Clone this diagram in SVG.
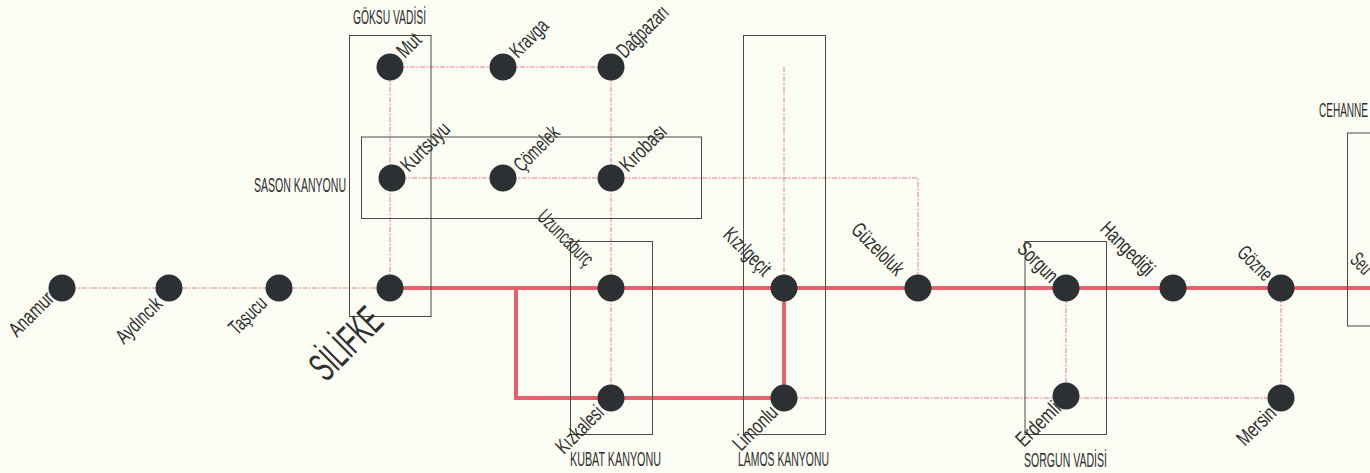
<svg xmlns="http://www.w3.org/2000/svg" width="1370" height="473" viewBox="0 0 1370 473">
<style>
.bg{fill:#fbfcf4}
.box{fill:none;stroke:#4a4a46;stroke-width:1}
.thin{fill:none;stroke:#e67d93;stroke-width:1;stroke-dasharray:5 1.500 2 1.500}
.thick{fill:none;stroke:#e8606c;stroke-width:4}
.dot{fill:#2d3033}
text{font-family:"Liberation Sans",Arial,sans-serif;font-size:21px;fill:#2f2f2f}
.cap{font-size:20.500px}
.big{font-size:41px}
</style>
<rect class="bg" width="1370" height="473"/>
<g id="connectors">
<path class="thin" d="M62 288H390M390 67H611M390 67V288M611 67V398M392 178H918V288M784 67V288M784 398H1281M1066 288V396M1281 288V398"/>
<path class="thick" d="M390 288H1370M516 288V398H784V288"/>
</g>
<g id="regions">
<g id="goksu"><rect class="box" x="349.500" y="35.500" width="81.500" height="281"/><text class="cap" x="353" y="24" textLength="73" lengthAdjust="spacingAndGlyphs">GÖKSU VADİSİ</text></g>
<g id="sason"><rect class="box" x="361.500" y="137" width="340" height="81.500"/><text class="cap" x="254" y="192" textLength="92" lengthAdjust="spacingAndGlyphs">SASON KANYONU</text></g>
<g id="kubat"><rect class="box" x="570.500" y="241.500" width="82" height="193"/><text class="cap" x="570" y="466" textLength="91" lengthAdjust="spacingAndGlyphs">KUBAT KANYONU</text></g>
<g id="lamos"><rect class="box" x="743.500" y="35.500" width="82" height="399"/><text class="cap" x="738" y="466" textLength="91" lengthAdjust="spacingAndGlyphs">LAMOS KANYONU</text></g>
<g id="sorgun-vadisi"><rect class="box" x="1025" y="241.500" width="81.500" height="193"/><text class="cap" x="1024" y="467" textLength="83" lengthAdjust="spacingAndGlyphs">SORGUN VADİSİ</text></g>
<g id="cehanne"><rect class="box" x="1347.500" y="133" width="40" height="193"/><text class="cap" x="1319" y="117" textLength="49" lengthAdjust="spacingAndGlyphs">CEHANNE</text></g>
</g>
<g id="n-anamur"><circle class="dot" cx="62" cy="288" r="13.500"/><text transform="translate(17 338) rotate(-45)" textLength="54" lengthAdjust="spacingAndGlyphs">Anamur</text></g>
<g id="n-aydincik"><circle class="dot" cx="169" cy="288" r="13.500"/><text transform="translate(124 345) rotate(-45)" textLength="56" lengthAdjust="spacingAndGlyphs">Aydıncık</text></g>
<g id="n-tasucu"><circle class="dot" cx="279" cy="288" r="13.500"/><text transform="translate(237 336) rotate(-45)" textLength="44" lengthAdjust="spacingAndGlyphs">Taşucu</text></g>
<g id="n-silifke"><circle class="dot" cx="390" cy="288" r="13.500"/><text class="big" transform="translate(326 383) rotate(-45)" textLength="84" lengthAdjust="spacingAndGlyphs">SİLİFKE</text></g>
<g id="n-mut"><circle class="dot" cx="390" cy="67" r="13.500"/><text transform="translate(405 59) rotate(-45)" textLength="25" lengthAdjust="spacingAndGlyphs">Mut</text></g>
<g id="n-kravga"><circle class="dot" cx="503" cy="67" r="13.500"/><text transform="translate(518 59) rotate(-45)" textLength="45" lengthAdjust="spacingAndGlyphs">Kravga</text></g>
<g id="n-dagpazari"><circle class="dot" cx="611" cy="67" r="13.500"/><text transform="translate(625 59) rotate(-45)" textLength="64" lengthAdjust="spacingAndGlyphs">Dağpazarı</text></g>
<g id="n-kurtsuyu"><circle class="dot" cx="392" cy="178" r="13.500"/><text transform="translate(409 173) rotate(-45)" textLength="60" lengthAdjust="spacingAndGlyphs">Kurtsuyu</text></g>
<g id="n-comelek"><circle class="dot" cx="503" cy="178" r="13.500"/><text transform="translate(522 173) rotate(-45)" textLength="55" lengthAdjust="spacingAndGlyphs">Çömelek</text></g>
<g id="n-kirobasi"><circle class="dot" cx="611" cy="178" r="13.500"/><text transform="translate(628 173) rotate(-45)" textLength="57" lengthAdjust="spacingAndGlyphs">Kırobası</text></g>
<g id="n-uzuncaburc"><circle class="dot" cx="611" cy="288" r="13.500"/><text transform="translate(536 218) rotate(45)" textLength="70" lengthAdjust="spacingAndGlyphs">Uzuncaburç</text></g>
<g id="n-kizkalesi"><circle class="dot" cx="611" cy="398" r="13.500"/><text transform="translate(564 455) rotate(-45)" textLength="58" lengthAdjust="spacingAndGlyphs">Kızkalesi</text></g>
<g id="n-kizilgecit"><circle class="dot" cx="784" cy="288" r="13.500"/><text transform="translate(722 236) rotate(45)" textLength="58" lengthAdjust="spacingAndGlyphs">Kızılgeçit</text></g>
<g id="n-limonlu"><circle class="dot" cx="784" cy="398" r="13.500"/><text transform="translate(741 452) rotate(-45)" textLength="54" lengthAdjust="spacingAndGlyphs">Limonlu</text></g>
<g id="n-guzeloluk"><circle class="dot" cx="918" cy="288" r="13.500"/><text transform="translate(850 231) rotate(45)" textLength="65" lengthAdjust="spacingAndGlyphs">Güzeloluk</text></g>
<g id="n-sorgun"><circle class="dot" cx="1066" cy="288" r="13.500"/><text transform="translate(1016 250) rotate(45)" textLength="48" lengthAdjust="spacingAndGlyphs">Sorgun</text></g>
<g id="n-erdemli"><circle class="dot" cx="1066" cy="396" r="13.500"/><text transform="translate(1024 448) rotate(-45)" textLength="54" lengthAdjust="spacingAndGlyphs">Erdemli</text></g>
<g id="n-hangedigi"><circle class="dot" cx="1173" cy="288" r="13.500"/><text transform="translate(1099 230) rotate(45)" textLength="67" lengthAdjust="spacingAndGlyphs">Hangediği</text></g>
<g id="n-gozne"><circle class="dot" cx="1281" cy="288" r="13.500"/><text transform="translate(1236 254) rotate(45)" textLength="40" lengthAdjust="spacingAndGlyphs">Gözne</text></g>
<g id="n-mersin"><circle class="dot" cx="1281" cy="398" r="13.500"/><text transform="translate(1245 447) rotate(-45)" textLength="46" lengthAdjust="spacingAndGlyphs">Mersin</text></g>
<g id="l-seu"><text transform="translate(1349 261) rotate(45)" textLength="21" lengthAdjust="spacingAndGlyphs">Seu</text></g>
</svg>
